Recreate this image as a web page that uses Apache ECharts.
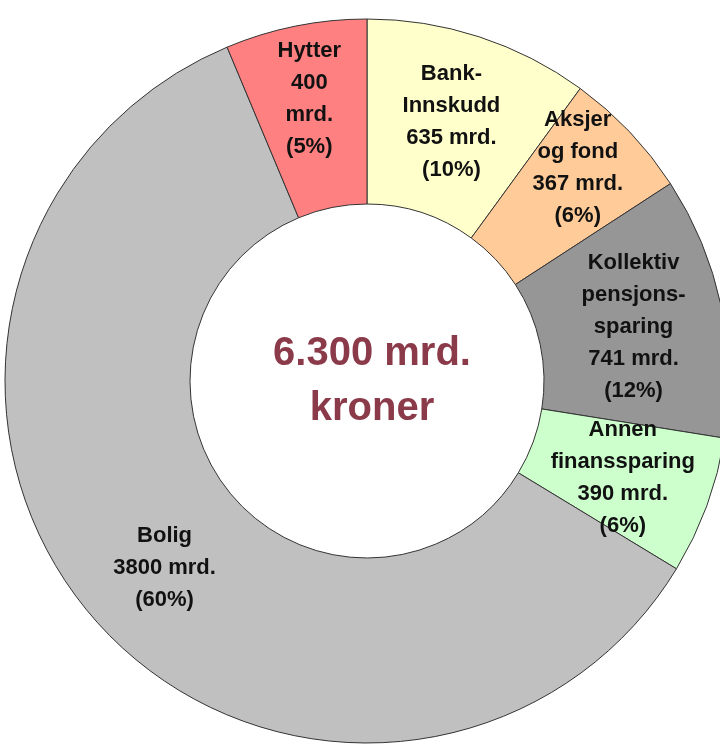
<!DOCTYPE html>
<html>
<head>
<meta charset="utf-8">
<script src="https://cdn.jsdelivr.net/npm/echarts@6/dist/echarts.min.js"></script>
<style>
  html, body { margin: 0; padding: 0; background: #fff; }
  #chart { width: 720px; height: 751px; }
</style>
</head>
<body>
<div id="chart"></div>
<script>
// slices clockwise from 12 o'clock
var categories = ['Bank-\nInnskudd', 'Aksjer\nog fond', 'Kollektiv\npensjons-\nsparing', 'Annen\nfinanssparing', 'Bolig', 'Hytter'];
var values = [635, 367, 741, 390, 3800, 400];
var percentLabels = ['10%', '6%', '12%', '6%', '60%', '5%'];
var colors = ['#FFFFCC', '#FFCC99', '#969696', '#CCFFCC', '#C0C0C0', '#FF8080'];
var centerText = '6.300 mrd.\nkroner';

var seriesData = values.map(function (v, i) {
    return { name: categories[i], value: v, itemStyle: { color: colors[i] } };
});

var myChart = echarts.init(document.getElementById('chart'));
myChart.setOption({
    animation: false,
    graphic: [{
        type: 'text',
        x: 372,
        y: 381,
        style: {
            text: centerText,
            font: 'bold 40px "Liberation Sans", Arial, sans-serif',
            fill: '#8B3A4A',
            textAlign: 'center',
            textVerticalAlign: 'middle',
            lineHeight: 55
        }
    }],
    series: [{
        type: 'pie',
        center: [367, 381],
        radius: [177, 362],
        startAngle: 90,
        clockwise: true,
        avoidLabelOverlap: false,
        itemStyle: { borderColor: '#333', borderWidth: 1 },
        emphasis: { disabled: true },
        label: {
            show: true,
            position: 'inside',
            color: '#111',
            fontFamily: '"Liberation Sans", Arial, sans-serif',
            fontWeight: 'bold',
            fontSize: 22,
            lineHeight: 32,
            formatter: function (p) {
                var i = p.dataIndex;
                var sep = categories[i] === 'Hytter' ? '\n' : ' ';
                return p.name + '\n' + p.value + sep + 'mrd.\n(' + percentLabels[i] + ')';
            }
        },
        labelLayout: function (params) {
            var name = categories[params.dataIndex];
            if (name === 'Hytter') return { dx: -4, dy: -15 };
            if (name === 'Aksjer\nog fond') return { dx: 13, dy: -26 };
            if (name === 'Bolig') return { dx: 4, dy: 9 };
            if (name === 'Bank-\nInnskudd') return { dy: 0 };
            return { dy: 3 };
        },
        labelLine: { show: false },
        data: seriesData
    }]
});
</script>
</body>
</html>
